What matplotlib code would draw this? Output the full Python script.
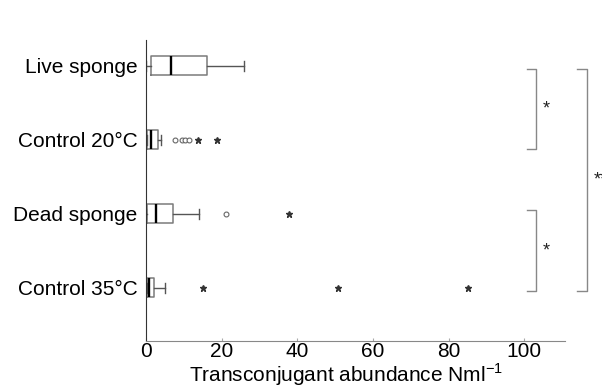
import numpy as np
import matplotlib
matplotlib.use("Agg")
import matplotlib.pyplot as plt

plt.rcParams['font.family'] = ['Liberation Sans', 'DejaVu Sans']
plt.rcParams['mathtext.fontset'] = 'custom'
plt.rcParams['mathtext.rm'] = 'Liberation Sans'

# groups, top to bottom
groups = ["Live sponge", "Control 20°C", "Dead sponge", "Control 35°C"]
positions = [4, 3, 2, 1]

# box statistics
whislo = [0.1, 0.2, 0.1, 0.2]
q1 = [1.2, 0.3, 0.2, 0.3]
med = [6.7, 1.2, 2.6, 0.8]
q3 = [16.2, 3.1, 7.1, 2.1]
whishi = [26.0, 4.1, 14.1, 5.1]

# outliers (circles) and extremes (stars)
circ_x = [[], [7.8, 9.4, 10.3, 11.5], [21.1], []]
star_x = [[], [13.7, 18.9], [37.9], [15.2, 50.9, 85.1]]

# significance brackets: (y_top, y_bottom, x_left, x_right, label)
brackets = [
    (3.955, 2.88, 100.7, 103.2, "*"),
    (2.045, 0.96, 100.7, 103.2, "*"),
    (3.955, 0.95, 114.0, 116.7, "**"),
]

fs = 15

fig = plt.figure(figsize=(6.02, 3.88), dpi=100)
ax = fig.add_axes([0.2425, 0.121, 0.696, 0.776])

stats = []
for i in range(len(groups)):
    stats.append(dict(whislo=whislo[i], q1=q1[i], med=med[i], q3=q3[i],
                      whishi=whishi[i], fliers=[]))

ax.bxp(stats, positions=positions, vert=False, widths=0.26,
       showfliers=False, capwidths=0.13,
       boxprops=dict(color="#7a7a7a", lw=1.1),
       whiskerprops=dict(color="#555555", lw=1.0),
       capprops=dict(color="#555555", lw=1.0),
       medianprops=dict(color="black", lw=1.7))

for i, p in enumerate(positions):
    if circ_x[i]:
        ax.plot(circ_x[i], [p] * len(circ_x[i]), 'o', mfc='white',
                mec='#666666', ms=3.5, mew=0.8, clip_on=False)
    if star_x[i]:
        ax.plot(star_x[i], [p] * len(star_x[i]), '*', color='#333333',
                ms=5, clip_on=False)

for yt, yb, xl, xr, lab in brackets:
    ax.plot([xl, xr, xr, xl], [yt, yt, yb, yb], color="#888888", lw=1.0,
            clip_on=False)
    ax.text(xr + 1.8, (yt + yb) / 2, lab, ha='left', va='center',
            fontsize=13, color='#222222', clip_on=False)

ax.set_xlim(0, 110.8)
ax.set_ylim(0.28, 4.35)
ax.set_yticks(positions)
ax.set_yticklabels(groups, fontsize=fs)
ax.tick_params(axis='y', length=0, pad=6)
ax.set_xticks([0, 20, 40, 60, 80, 100])
ax.tick_params(axis='x', direction='in', length=2, color='#aaaaaa',
               labelsize=fs, pad=1)

fig.text(0.575, 0.016, "Transconjugant abundance Nml$^{\\mathregular{-1}}$",
         fontsize=fs, ha='center', va='baseline')

ax.spines['top'].set_visible(False)
ax.spines['right'].set_visible(False)
ax.spines['left'].set_color('#333333')
ax.spines['bottom'].set_color('#888888')

fig.savefig("out.png", dpi=100)
